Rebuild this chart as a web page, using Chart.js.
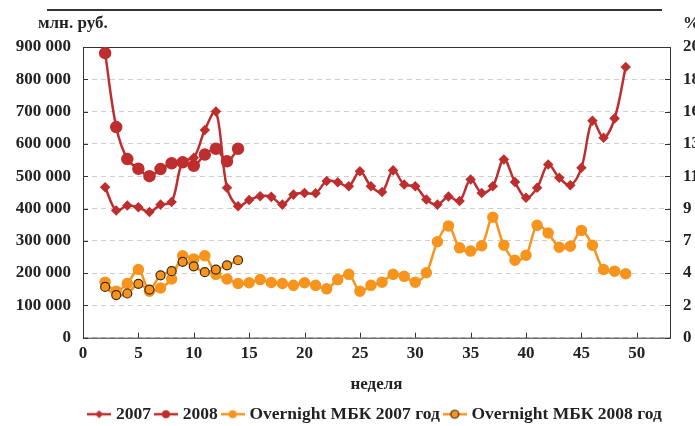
<!DOCTYPE html>
<html>
<head>
<meta charset="utf-8">
<script src="https://cdn.jsdelivr.net/npm/chart.js@4"></script>
<style>
  body { margin: 0; background: #fff; }
  #wrap { width: 695px; height: 426px; overflow: hidden; }
  #box { width: 712px; height: 426px; }
</style>
</head>
<body>
<div id="wrap"><div id="box"><canvas id="chart" width="712" height="426"></canvas></div></div>
<script>
// weeks on the x axis
const weeks2007 = [2, 3, 4, 5, 6, 7, 8, 9, 10, 11, 12, 13, 14, 15, 16, 17, 18, 19, 20, 21, 22, 23, 24, 25,
  26, 27, 28, 29, 30, 31, 32, 33, 34, 35, 36, 37, 38, 39, 40, 41, 42, 43, 44, 45, 46, 47, 48, 49];
const weeks2008 = [2, 3, 4, 5, 6, 7, 8, 9, 10, 11, 12, 13, 14];

// млн. руб. (left axis)
const rub2007 = [466000, 394000, 409000, 404000, 389000, 412000, 420000, 546000, 557000, 643000, 700000, 464000,
  407000, 426000, 438000, 436000, 412000, 443000, 448000, 447000, 485000, 481000, 469000, 515000,
  469000, 451000, 518000, 474000, 469000, 428000, 412000, 437000, 423000, 490000, 448000, 469000,
  552000, 482000, 433000, 464000, 536000, 495000, 472000, 526000, 672000, 619000, 679000, 838000];
const rub2008 = [881000, 652000, 553000, 523000, 500000, 522000, 540000, 543000, 532000, 567000, 585000, 546000, 585000];

// Overnight МБК, % (right axis)
const on2007 = [3.82, 3.20, 3.73, 4.69, 3.20, 3.42, 4.04, 5.64, 5.42, 5.64, 4.36, 4.04, 3.73, 3.78, 4.00, 3.80,
  3.73, 3.60, 3.78, 3.60, 3.36, 4.00, 4.36, 3.20, 3.60, 3.82, 4.36, 4.22, 3.82, 4.47, 6.60, 7.69,
  6.18, 5.96, 6.33, 8.29, 6.36, 5.33, 5.67, 7.73, 7.20, 6.22, 6.29, 7.38, 6.36, 4.69, 4.58, 4.40];
const on2008 = [3.49, 2.93, 3.04, 3.71, 3.31, 4.29, 4.58, 5.22, 4.91, 4.51, 4.69, 4.98, 5.33];

const xTicks = [0, 5, 10, 15, 20, 25, 30, 35, 40, 45, 50];

const RED = '#be2e2e';
const ORANGE = '#f7941d';
const FONT = 'Liberation Serif, Times New Roman, serif';

const pts = (xs, ys) => xs.map((x, i) => ({ x, y: ys[i] }));
const fmt = v => String(v).replace(/\B(?=(\d{3})+(?!\d))/g, ' ');

// line + marker picture for the legend
function legendIcon(ds) {
  const c = document.createElement('canvas');
  c.width = 24; c.height = 14;
  const g = c.getContext('2d');
  g.strokeStyle = ds.borderColor; g.lineWidth = 2.5;
  g.beginPath(); g.moveTo(0, 7); g.lineTo(24, 7); g.stroke();
  g.fillStyle = ds.pointBackgroundColor;
  g.beginPath();
  if (ds.pointStyle === 'rectRot') {
    g.moveTo(12, 3); g.lineTo(16, 7); g.lineTo(12, 11); g.lineTo(8, 7); g.closePath();
  } else {
    g.arc(12, 7, 4, 0, Math.PI * 2);
  }
  g.fill();
  if (ds.pointBorderColor !== ds.pointBackgroundColor) {
    g.strokeStyle = ds.pointBorderColor; g.lineWidth = 1.2; g.stroke();
  }
  return c;
}

const frame = {
  id: 'frame',
  beforeDatasetsDraw(chart) {
    const { ctx, chartArea: a, scales } = chart;
    ctx.save();
    ctx.strokeStyle = '#333';
    ctx.lineWidth = 1;
    ctx.strokeRect(a.left + 0.5, a.top + 0.5, a.right - a.left, a.bottom - a.top);
    ctx.beginPath();
    scales.y.ticks.forEach(t => {
      const y = Math.round(scales.y.getPixelForValue(t.value)) + 0.5;
      ctx.moveTo(a.left, y); ctx.lineTo(a.left + 5, y);
      ctx.moveTo(a.right - 5, y); ctx.lineTo(a.right, y);
    });
    xTicks.forEach(v => {
      const x = Math.round(scales.x.getPixelForValue(v)) + 0.5;
      ctx.moveTo(x, a.bottom); ctx.lineTo(x, a.bottom - 5);
    });
    ctx.stroke();
    ctx.restore();
  },
  afterDraw(chart) {
    const { ctx, chartArea: a } = chart;
    ctx.save();
    ctx.strokeStyle = '#333';
    ctx.lineWidth = 2;
    ctx.beginPath(); ctx.moveTo(47, 10); ctx.lineTo(662, 10); ctx.stroke();
    ctx.fillStyle = '#222';
    ctx.font = 'bold 17px ' + FONT;
    ctx.textBaseline = 'middle';
    ctx.textAlign = 'left';
    ctx.fillText('млн. руб.', 38, 24);
    ctx.fillText('%', a.right + 13, 24);
    ctx.restore();
  }
};

new Chart(document.getElementById('chart'), {
  type: 'line',
  data: {
    datasets: [
      { label: '2007', data: pts(weeks2007, rub2007), yAxisID: 'y', order: 3,
        borderColor: RED, backgroundColor: RED, pointBackgroundColor: RED, pointBorderColor: RED,
        pointStyle: 'rectRot', pointRadius: 3.5, borderWidth: 2.5 },
      { label: '2008', data: pts(weeks2008, rub2008), yAxisID: 'y', order: 2,
        borderColor: RED, backgroundColor: RED, pointBackgroundColor: RED, pointBorderColor: RED,
        pointStyle: 'circle', pointRadius: 5, borderWidth: 2.5 },
      { label: 'Overnight МБК 2007 год', data: pts(weeks2007, on2007), yAxisID: 'y1', order: 1,
        borderColor: ORANGE, backgroundColor: ORANGE, pointBackgroundColor: ORANGE, pointBorderColor: ORANGE,
        pointStyle: 'circle', pointRadius: 4.5, borderWidth: 2.5 },
      { label: 'Overnight МБК 2008 год', data: pts(weeks2008, on2008), yAxisID: 'y1', order: 0,
        borderColor: ORANGE, backgroundColor: ORANGE, pointBackgroundColor: ORANGE, pointBorderColor: '#3a2a1a',
        pointStyle: 'circle', pointRadius: 4.5, pointBorderWidth: 1.2, borderWidth: 2.5 }
    ]
  },
  options: {
    responsive: false,
    animation: false,
    layout: { padding: { top: 47, left: 0, right: 0, bottom: -7 } },
    elements: { line: { tension: 0.35 } },
    plugins: {
      tooltip: { enabled: false },
      legend: {
        position: 'bottom',
        fullSize: false,
        labels: {
          usePointStyle: true,
          pointStyleWidth: 16,
          padding: 7,
          color: '#222',
          font: { family: FONT, size: 17.5, weight: 'bold' },
          generateLabels(chart) {
            return chart.data.datasets.map((ds, i) => ({
              text: ds.label, pointStyle: legendIcon(ds), datasetIndex: i,
              fontColor: '#222', lineWidth: 0, hidden: false
            }));
          }
        }
      }
    },
    scales: {
      x: {
        type: 'linear', min: 0, max: 53,
        afterBuildTicks: s => { s.ticks = xTicks.map(v => ({ value: v })); },
        grid: { display: false, drawTicks: false },
        border: { display: false },
        ticks: { padding: 6, color: '#222', font: { family: FONT, size: 17, weight: 'bold' } },
        title: { display: true, text: 'неделя', color: '#222', padding: { top: 4, bottom: 4 },
          font: { family: FONT, size: 17, weight: 'bold' } }
      },
      y: {
        position: 'left', min: 0, max: 900000,
        afterFit: s => { s.width = 83; },
        ticks: { stepSize: 100000, padding: 12, color: '#222', callback: v => fmt(v),
          font: { family: FONT, size: 17, weight: 'bold' } },
        grid: { color: '#cfcfcf', drawTicks: false },
        border: { display: false, dash: [5, 4] }
      },
      y1: {
        position: 'right', min: 0, max: 20,
        afterFit: s => { s.width = 712 - 670; },
        afterBuildTicks: s => { s.ticks = [0, 1, 2, 3, 4, 5, 6, 7, 8, 9].map(i => ({ value: i * 20 / 9 })); },
        ticks: { padding: 13, color: '#222', callback: v => Math.round(v),
          font: { family: FONT, size: 17, weight: 'bold' } },
        grid: { drawOnChartArea: false, drawTicks: false },
        border: { display: false }
      }
    }
  },
  plugins: [frame]
});
</script>
</body>
</html>
